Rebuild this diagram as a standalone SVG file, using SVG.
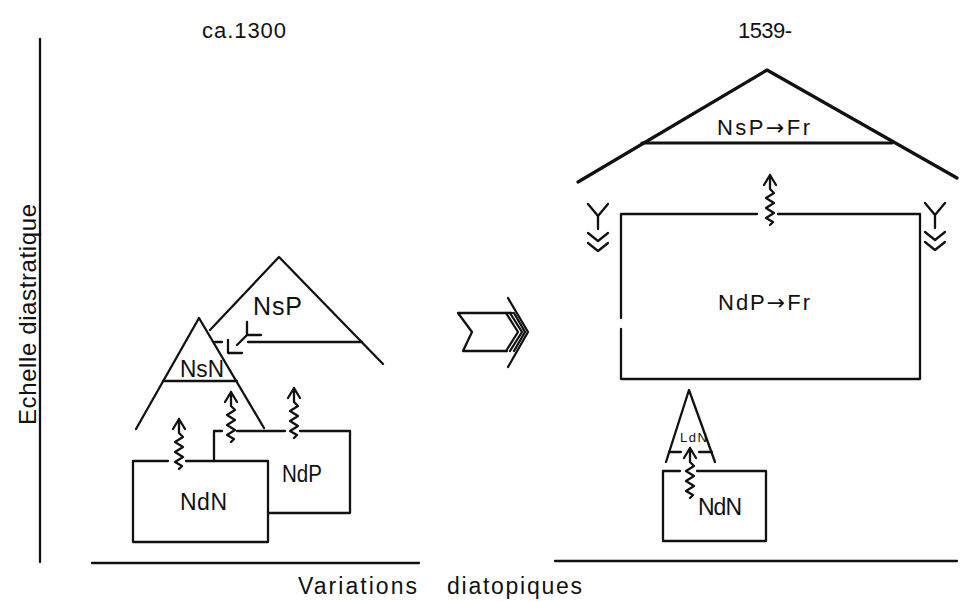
<svg xmlns="http://www.w3.org/2000/svg" width="967" height="601" viewBox="0 0 967 601">
<style>
.ln{fill:none;stroke:#111;stroke-width:2.3;stroke-linecap:round;stroke-linejoin:round}
.thick{fill:none;stroke:#111;stroke-width:3.2;stroke-linecap:round;stroke-linejoin:round}
.t{font-family:"Liberation Sans",Arial,sans-serif;fill:#111}
.ar{font-family:"DejaVu Sans",sans-serif}
</style>
<defs>
<path id="sq" d="M-6,10 L0,0 L6,10 M0,0 V14 L4,18 L-4,23 L4,28 L-4,33 L4,38 L-4,43 L3,47 L0,50" class="ln"/>
<path id="ya" d="M-10,0 L0,12 L10,0 M0,12 V25 M-10,29 L0,37 L10,29 M-10,39 L0,47 L10,39" class="ln"/>
</defs>
<rect width="967" height="601" fill="#fff"/>

<g id="axes">
<line x1="40" y1="39" x2="40" y2="562" class="ln"/>
<line x1="92" y1="563" x2="419" y2="563" class="ln"/>
<line x1="555" y1="561" x2="957" y2="561" class="ln"/>
<text class="t" font-size="24" transform="translate(36,425) rotate(-90)" textLength="221" lengthAdjust="spacing">Echelle diastratique</text>
<text class="t" x="298" y="594" font-size="23" textLength="119" lengthAdjust="spacing">Variations</text>
<text class="t" x="447" y="594" font-size="23" textLength="135" lengthAdjust="spacing">diatopiques</text>
<text class="t" x="202" y="38" font-size="22" textLength="84" lengthAdjust="spacing">ca.1300</text>
<text class="t" x="738" y="38" font-size="22" textLength="54" lengthAdjust="spacing">1539-</text>
</g>

<g id="NsP">
<path d="M210,330 L279,257 L383,364" class="ln"/>
<path d="M248,342 L362,342" class="ln"/>
<path d="M215,342 L222,342 M228,340 L228,353 L242,353 M247,322 L247,335 L261,335 M247,335 L237,345" class="ln"/>
<text class="t" x="253" y="315" font-size="25" textLength="49" lengthAdjust="spacing">NsP</text>
</g>

<g id="NsN">
<path d="M136,429 L199,318 L264,428" class="ln"/>
<path d="M163,381 L237,381" class="ln"/>
<text class="t" x="180" y="377" font-size="24" textLength="44" lengthAdjust="spacingAndGlyphs">NsN</text>
</g>

<g id="NdP">
<path d="M214,461 V431 H222 M237,431 H285 M300,431 H350 V513 H268" class="ln"/>
<text class="t" x="282" y="482" font-size="23" textLength="40" lengthAdjust="spacingAndGlyphs">NdP</text>
</g>

<g id="NdN">
<path d="M168,461 H133 V542 H268 V461 H186" class="ln"/>
<text class="t" x="180" y="510" font-size="23" textLength="47" lengthAdjust="spacing">NdN</text>
</g>

<g id="transition">
<path d="M512,313 L458,313 L472,332 L463,351 L507,351" class="ln"/>
<path d="M506,313 L518,332 L506,351 M510,313 L522,332 L510,351 M514,313 L525,332 L514,351" class="ln" stroke-width="1.8"/>
<path d="M508,298 L528,332 L508,367" class="ln"/>
</g>

<g id="NsP-Fr">
<path d="M578,182 L767,70 L957,178" class="thick"/>
<path d="M642,143 L892,143" class="thick"/>
<text class="t" x="717" y="135" font-size="22" textLength="93" lengthAdjust="spacing">NsP<tspan class="ar">→</tspan>Fr</text>
</g>

<g id="NdP-Fr">
<path d="M757,214 H621 V318 M621,329 V379 H920 V214 H778" class="ln"/>
<text class="t" x="718" y="310" font-size="22" textLength="92" lengthAdjust="spacing">NdP<tspan class="ar">→</tspan>Fr</text>
</g>

<g id="LdN">
<path d="M666,462 L689,390 L715,462" class="ln"/>
<path d="M669,452 H681 M699,452 H712" class="ln"/>
<text class="t" x="680" y="442" font-size="13" textLength="27" lengthAdjust="spacing">LdN</text>
</g>

<g id="NdN-right">
<path d="M680,471 H663 V541 H766 V471 H697" class="ln"/>
<text class="t" x="698" y="515" font-size="23" textLength="44" lengthAdjust="spacing">NdN</text>
</g>

<g id="connectors">
<use href="#sq" x="179" y="419"/>
<use href="#sq" x="231" y="392"/>
<use href="#sq" x="294" y="388"/>
<use href="#sq" x="770" y="175"/>
<use href="#sq" x="690" y="448"/>
<use href="#ya" x="598" y="204"/>
<use href="#ya" x="935" y="203"/>
</g>
</svg>
